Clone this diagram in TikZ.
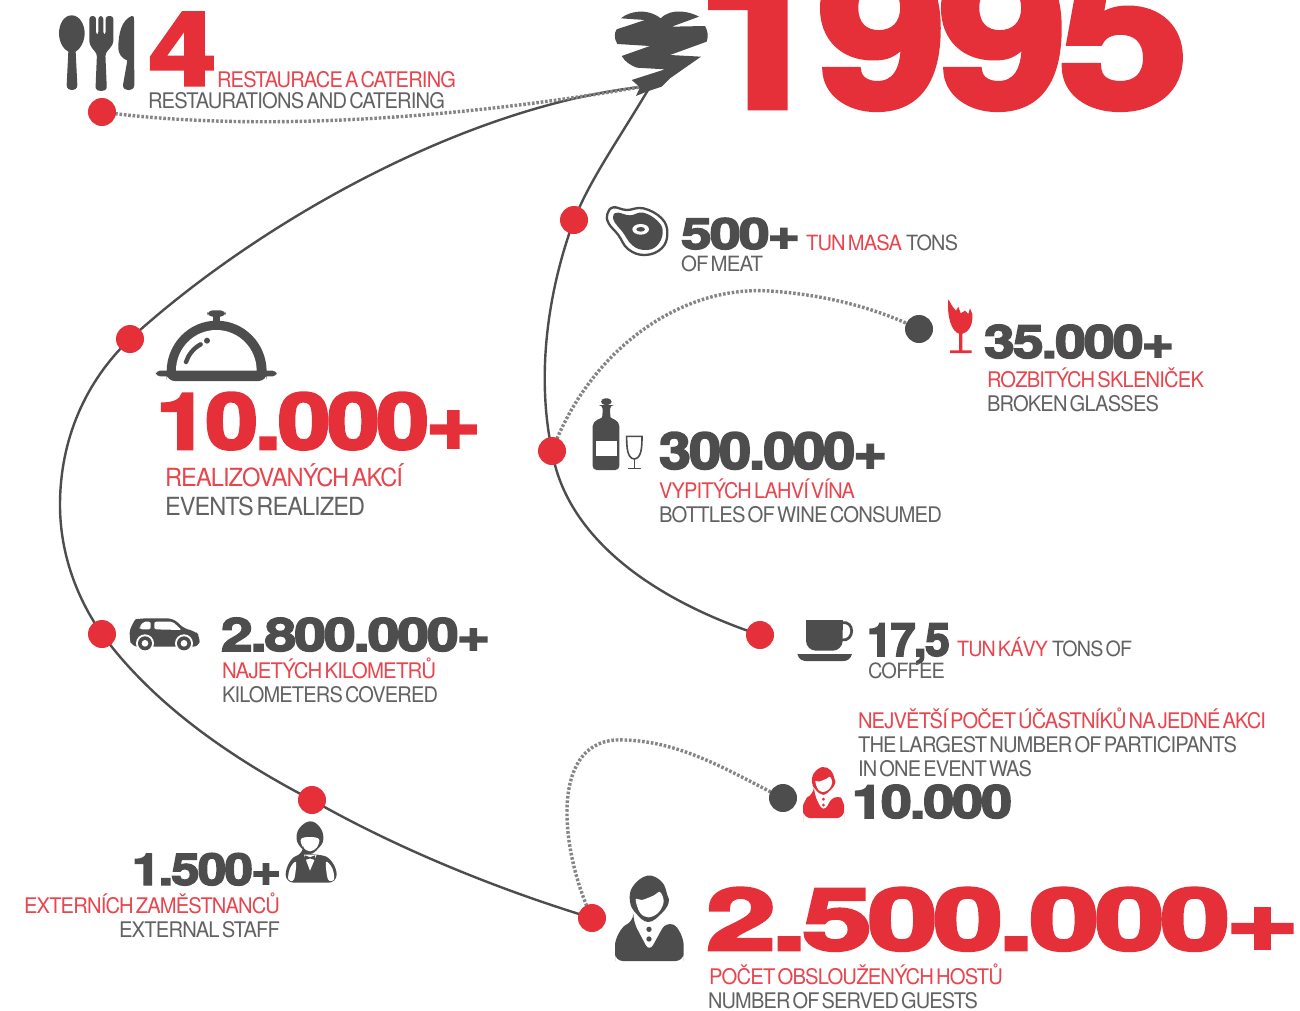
\documentclass[tikz,border=0pt]{standalone}
\usepackage{fontspec}
\usepackage{graphicx}
\usetikzlibrary{backgrounds}
\newfontfamily\heavy[FakeBold=3.2,LetterSpace=-3.5]{TeX Gyre Heros Bold}
\newfontfamily\lite[LetterSpace=-4,WordSpace=0.45]{TeX Gyre Heros}
\definecolor{rd}{HTML}{E5303A}
\definecolor{rt}{HTML}{E8454E}
\definecolor{dk}{HTML}{4D4D4D}
\definecolor{tg}{HTML}{626264}
\definecolor{dotc}{HTML}{858585}
\tikzset{
  txt/.style={anchor=base west,inner sep=0pt,outer sep=0pt},
  reddot/.style={circle,fill=rd,minimum size=28pt,inner sep=0pt},
  darkdot/.style={circle,fill=dk,minimum size=28pt,inner sep=0pt},
  solidline/.style={draw=dk,line width=2.4pt},
  dotline/.style={draw=dotc,line width=3.4pt,dash pattern=on 2.6pt off 1.8pt},
}
% name, x, baseline, width, size, colour, text
\newcommand\lab[7]{\node[txt,text=#6] (#1) at (#2,#3) {\resizebox{#4pt}{\height}{\fontsize{#5pt}{#5pt}\selectfont\lite #7}};}
\newcommand\num[7]{\node[txt,text=#6] (#1) at (#2,#3) {\resizebox{#4pt}{\height}{\fontsize{#5pt}{#5pt}\selectfont\heavy #7}};}
% person head/body drawn in 3x zoom coordinates of the guest icon
\newcommand\personicon[1]{%
  \fill[#1] plot[smooth cycle,tension=.7] coordinates {(210,125)(218,80)(262,47)(305,65)(322,105)(326,128)(305,160)(265,186)(228,160)};
  \fill[white] plot[smooth cycle,tension=.6] coordinates {(227,118)(246,120)(282,106)(300,96)(311,125)(295,158)(265,172)(240,158)};
  \fill[#1,rounded corners=8pt] (220,185) -- (268,276) -- (318,185) .. controls (355,200) and (371,235) .. (371,280) -- (371,303) -- (165,303) -- (165,280) .. controls (165,235) and (185,200) .. (220,185) -- cycle;
  \fill[#1] (267,208) circle (8) (267,237) circle (8);
}
\begin{document}
\begin{tikzpicture}[x=1pt,y=-1pt]
\useasboundingbox (0,0) rectangle (1300,1010);
\clip (0,0) rectangle (1300,1010);

% dots
\node[reddot] (dRest) at (102,112) {};
\node[reddot] (dMeat) at (574,220) {};
\node[reddot] (dEvents) at (130,339) {};
\node[reddot] (dWine) at (552,451) {};
\node[reddot] (dCoffee) at (760,635) {};
\node[reddot] (dCar) at (102,634) {};
\node[reddot] (dStaff) at (312,800) {};
\node[reddot] (dGuests) at (592,918) {};
\node[darkdot] (dGlass) at (919,329) {};
\node[darkdot] (dMax) at (783,798) {};
\coordinate (tipA) at (640,87);
\coordinate (tipB) at (648,90);
\coordinate (leftMid) at (60,505);

\begin{pgfonlayer}{background}
\fill[white] (0,0) rectangle (1300,1010);
\draw[solidline] (tipA) .. controls (460,108) and (255,225) .. (dEvents.center)
  .. controls (85,382) and (60,440) .. (leftMid)
  .. controls (60,555) and (78,600) .. (dCar.center)
  .. controls (150,700) and (225,755) .. (dStaff.center)
  .. controls (400,850) and (500,890) .. (dGuests.center);
\draw[solidline] (tipB) .. controls (615,145) and (590,180) .. (dMeat.center)
  .. controls (550,285) and (535,370) .. (dWine.center)
  .. controls (565,530) and (640,595) .. (dCoffee.center);
\draw[dotline] (dRest.center) .. controls (250,132) and (450,120) .. (tipA);
\draw[dotline] (dWine.center) .. controls (590,350) and (680,285) .. (770,291) .. controls (830,295) and (880,310) .. (dGlass.center);
\draw[dotline] (dGuests.center) .. controls (560,850) and (550,745) .. (615,740) .. controls (680,738) and (735,775) .. (dMax.center);
\end{pgfonlayer}

% heart
\begin{scope}[shift={(590,0)},x=.3333pt,y=-.3333pt]
\fill[dk] (93,55) .. controls (115,35) and (170,22) .. (212,55) .. controls (245,22) and (300,35) .. (327,50) -- (245,80) -- (345,78) .. controls (355,95) and (355,110) .. (350,125) -- (240,165) -- (333,170) -- (240,235) -- (215,260) -- (170,275) -- (138,288) -- (150,262) -- (125,240) -- (225,208) -- (140,203) .. controls (120,195) and (105,185) .. (95,168) -- (180,138) -- (82,132) .. controls (72,115) and (72,100) .. (80,88) -- (165,60) -- cycle;
\end{scope}

% utensils
\begin{scope}[shift={(40,0)},x=.3333pt,y=-.3333pt]
\fill[dk] (95,46) .. controls (120,46) and (134,75) .. (134,100) .. controls (134,125) and (120,148) .. (107,155) -- (112,255) .. controls (112,276) and (80,276) .. (80,255) -- (85,155) .. controls (70,148) and (57,125) .. (57,100) .. controls (57,75) and (70,46) .. (95,46) -- cycle;
\fill[dk,rounded corners=3pt] (148,48) -- (168,48) -- (168,105) -- (175,105) -- (175,48) -- (190,48) -- (190,105) -- (197,105) -- (197,48) -- (220,48) -- (220,115) .. controls (220,135) and (205,150) .. (196,160) -- (200,255) .. controls (200,276) and (167,276) .. (167,255) -- (171,160) .. controls (160,150) and (148,135) .. (148,115) -- cycle;
\fill[dk] (282,55) -- (283,255) .. controls (283,276) and (248,276) .. (249,255) -- (262,182) .. controls (245,175) and (235,160) .. (235,145) .. controls (235,100) and (245,60) .. (275,48) .. controls (280,47) and (282,50) .. (282,55) -- cycle;
\end{scope}

% meat
\begin{scope}[shift={(550,190)},x=.3333pt,y=-.3333pt]
\draw[dk,line width=2.3pt,fill=white] plot[smooth cycle,tension=.7] coordinates {(172,72)(190,52)(230,60)(280,55)(335,85)(352,130)(335,175)(285,195)(235,178)(205,135)(176,100)};
\fill[dk] plot[smooth cycle,tension=.7] coordinates {(190,75)(205,68)(240,76)(280,68)(325,95)(338,130)(320,168)(285,180)(247,166)(217,125)(194,97)};
\fill[white] (272,118) ellipse [x radius=25,y radius=16];
\fill[dk] (272,118) ellipse [x radius=13,y radius=7];
\end{scope}

% broken glass
\begin{scope}[shift={(890,290)},x=.3333pt,y=-.3333pt]
\fill[rd] (175,28) -- (188,50) -- (198,62) -- (205,50) -- (212,70) -- (225,62) -- (235,72) -- (240,55) -- (247,72) .. controls (249,100) and (240,125) .. (217,131) -- (217,181) -- (245,181) -- (245,189) -- (180,189) -- (180,181) -- (207,181) -- (207,131) .. controls (185,125) and (170,80) .. (175,28) -- cycle;
\end{scope}

% cloche
\begin{scope}[shift={(130,300)},x=.3333pt,y=-.3333pt]
\fill[dk,rounded corners=5pt] (232,31) rectangle (287,50);
\fill[dk] (250,45) rectangle (270,70);
\fill[dk] (110,215) arc[start angle=180,end angle=360,x radius=150,y radius=153] -- cycle;
\fill[dk,rounded corners=4pt] (78,212) rectangle (440,229);
\fill[dk,rounded corners=8pt] (110,215) rectangle (410,243);
\fill[white] (138,212) arc[start angle=180,end angle=360,x radius=121,y radius=122] -- cycle;
\fill[dk] (231,122) circle (9);
\draw[dk,line width=4.4pt,line cap=round] (212,133) .. controls (190,145) and (175,165) .. (168,186);
\end{scope}

% bottle and wine glass
\begin{scope}[shift={(530,390)},x=.3333pt,y=-.3333pt]
\fill[dk,rounded corners=4pt] (213,25) -- (245,25) -- (245,45) -- (240,45) -- (240,70) .. controls (242,85) and (268,90) .. (268,120) -- (268,240) -- (188,240) -- (188,120) .. controls (188,90) and (216,85) .. (218,70) -- (218,45) -- (213,45) -- cycle;
\fill[white] (197,152) rectangle (260,197);
\draw[dk,line width=1.6pt] (290,139) -- (336,139) .. controls (336,170) and (335,205) .. (313,207) .. controls (291,205) and (290,170) .. (290,139) -- cycle;
\draw[dk,line width=1.6pt] (313,207) -- (313,235) (293,235) -- (333,235);
\end{scope}

% coffee
\begin{scope}[shift={(780,610)},x=.3333pt,y=-.3333pt]
\fill[dk,rounded corners=10pt] (78,30) -- (188,30) -- (188,122) -- (78,122) -- cycle;
\fill[dk] (78,30) rectangle (188,60);
\draw[dk,line width=2.7pt] (185,38) .. controls (225,30) and (225,95) .. (185,90);
\fill[dk] (52,132) -- (216,132) .. controls (212,148) and (200,153) .. (190,153) -- (78,153) .. controls (68,153) and (56,148) .. (52,132) -- cycle;
\end{scope}

% car
\begin{scope}[shift={(110,600)},x=.3333pt,y=-.3333pt]
\fill[dk,rounded corners=6pt] (58,112) .. controls (60,85) and (75,58) .. (95,55) -- (190,55) -- (225,88) -- (255,92) -- (270,110) -- (268,140) -- (65,140) -- cycle;
\fill[white,rounded corners=2pt] (88,82) -- (100,65) -- (122,65) -- (122,88) -- (90,88) -- cycle;
\fill[white,rounded corners=2pt] (133,65) -- (188,65) -- (215,90) -- (133,88) -- cycle;
\fill[white] (105,130) circle (27) (222,130) circle (27);
\fill[dk] (105,130) circle (21) (222,130) circle (21);
\fill[white] (105,130) circle (10) (222,130) circle (10);
\end{scope}

% guest
\begin{scope}[shift={(560,860)},x=.3333pt,y=-.3333pt]
\personicon{dk}
\end{scope}

% red host
\begin{scope}[shift={(770,757.6)},x=.2pt,y=-.2pt]
\personicon{rd}
\end{scope}

% waiter
\begin{scope}[shift={(270,780)},x=.3333pt,y=-.3333pt]
\fill[dk] plot[smooth cycle,tension=.7] coordinates {(80,178)(88,145)(120,124)(150,142)(160,178)(145,205)(120,222)(95,205)};
\fill[white] plot[smooth cycle,tension=.6] coordinates {(92,180)(104,172)(135,172)(148,180)(140,203)(120,214)(100,203)};
\fill[dk,rounded corners=8pt] (100,222) -- (140,222) .. controls (180,232) and (200,260) .. (200,308) -- (47,308) .. controls (47,260) and (65,232) .. (100,222) -- cycle;
\fill[white] plot[smooth cycle,tension=.6] coordinates {(55,298)(60,265)(78,246)(72,298)};
\fill[white] plot[smooth cycle,tension=.6] coordinates {(192,298)(187,265)(168,246)(174,298)};
\fill[white] (102,224) -- (120,272) -- (140,224) -- cycle;
\fill[dk] (105,226) -- (120,232) -- (135,226) -- (135,240) -- (120,235) -- (105,240) -- cycle;
\end{scope}

% texts
\num{n4}{149}{85}{67}{102}{rd}{4}
\lab{t4r}{217}{87}{239}{21.5}{rt}{RESTAURACE A CATERING}
\lab{t4g}{148}{108}{297}{21.5}{tg}{RESTAURATIONS AND CATERING}
\num{n1995}{696}{107}{492}{205}{rd}{1995}
\num{n500}{681}{249}{119}{43}{dk}{500+}
\lab{t500r}{806}{250}{96}{21}{rt}{TUN MASA}
\lab{t500g}{906}{250}{52}{21}{tg}{TONS}
\lab{t500h}{681}{271}{82}{21}{tg}{OF MEAT}
\num{n35}{984}{358}{190}{46}{dk}{35.000+}
\lab{t35r}{987}{387}{217}{21.5}{rt}{ROZBITÝCH SKLENIČEK}
\lab{t35g}{987}{411}{172}{21.5}{tg}{BROKEN GLASSES}
\num{n10k}{156}{449}{325}{78}{rd}{10.000+}
\lab{t10r}{165}{486}{238}{25}{rt}{REALIZOVANÝCH AKCÍ}
\lab{t10g}{165}{515}{200}{25}{tg}{EVENTS REALIZED}
\num{n300}{659}{469}{228}{51}{dk}{300.000+}
\lab{t300r}{659}{498}{196}{21.5}{rt}{VYPITÝCH LAHVÍ VÍNA}
\lab{t300g}{659}{522}{283}{21.5}{tg}{BOTTLES OF WINE CONSUMED}
\num{n28}{221}{651}{269}{46}{dk}{2.800.000+}
\lab{t28r}{222}{678}{214}{21.5}{rt}{NAJETÝCH KILOMETRŮ}
\lab{t28g}{222}{702}{216}{21.5}{tg}{KILOMETERS COVERED}
\num{n175}{867}{656}{83}{46}{dk}{17,5}
\lab{t175r}{957}{656}{91}{21}{rt}{TUN KÁVY}
\lab{t175g}{1052}{656}{80}{21}{tg}{TONS OF}
\lab{t175h}{868}{678}{77}{21}{tg}{COFFEE}
\lab{tMaxr}{858}{728}{408}{21.5}{rt}{NEJVĚTŠÍ POČET ÚČASTNÍKŮ NA JEDNÉ AKCI}
\lab{tMaxg}{858}{752}{379}{21.5}{tg}{THE LARGEST NUMBER OF PARTICIPANTS}
\lab{tMaxh}{858}{776}{174}{21.5}{tg}{IN ONE EVENT WAS}
\num{nMax}{852}{818}{160}{46}{dk}{10.000}
\num{n15}{132}{885}{149}{44}{dk}{1.500+}
\lab{t15r}{24}{913}{256}{21.5}{rt}{EXTERNÍCH ZAMĚSTNANCŮ}
\lab{t15g}{119}{937}{161}{21.5}{tg}{EXTERNAL STAFF}
\num{n25}{706}{950}{593}{86}{rd}{2.500.000+}
\lab{t25r}{709}{984}{294}{21.5}{rt}{POČET OBSLOUŽENÝCH HOSTŮ}
\lab{t25g}{708}{1008}{270}{21.5}{tg}{NUMBER OF SERVED GUESTS}
\end{tikzpicture}
\end{document}
